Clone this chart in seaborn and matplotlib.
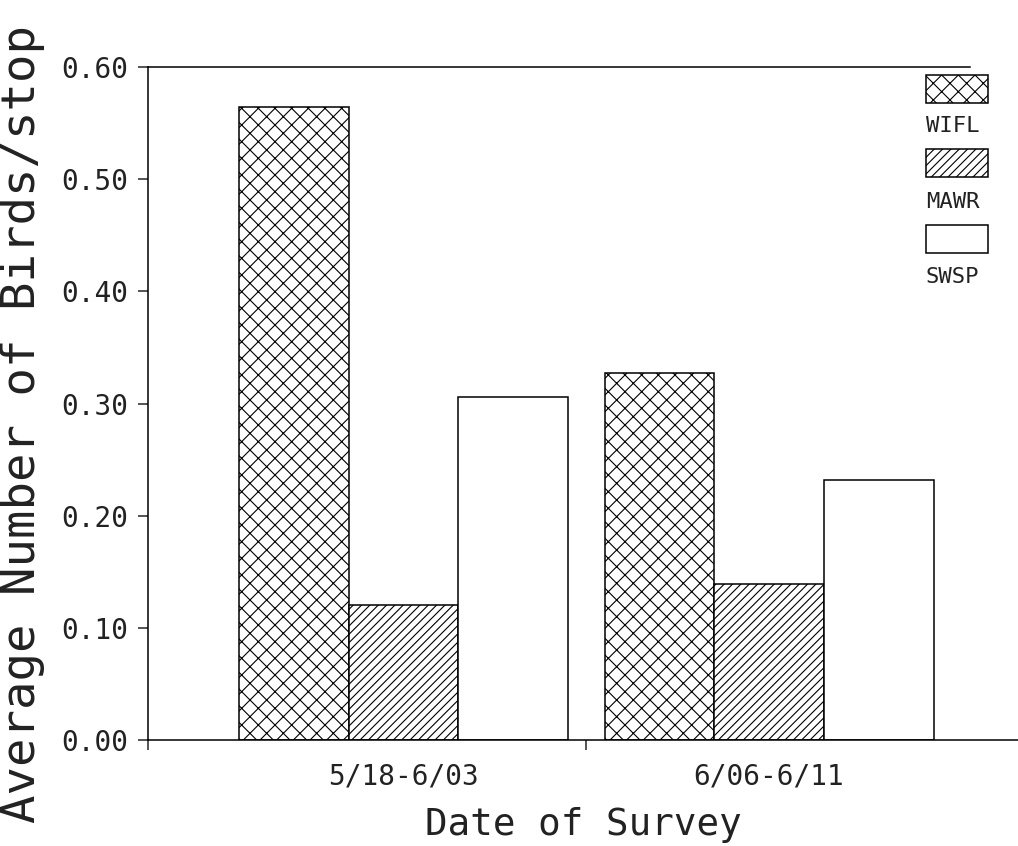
import numpy as np
import pandas as pd
import matplotlib
matplotlib.use('Agg')
import matplotlib.pyplot as plt
import seaborn as sns
from matplotlib.patches import Rectangle

# data
dates = ['5/18-6/03', '6/06-6/11']
species = ['WIFL', 'MAWR', 'SWSP']
wifl = [0.564, 0.327]
mawr = [0.120, 0.139]
swsp = [0.306, 0.232]
hatches = ['xx', '////', '']

df = pd.DataFrame({
    'date': dates * 3,
    'species': [s for s in species for _ in dates],
    'value': wifl + mawr + swsp,
})

sns.set_theme(style='white')
plt.rcParams['font.family'] = ['DejaVu Sans Mono', 'DejaVu Sans']
plt.rcParams['hatch.linewidth'] = 0.8

fig = plt.figure(figsize=(10.18, 8.46), dpi=100)
ax = fig.add_axes([148 / 1018, 1 - 740 / 846, 1 - 148 / 1018, (740 - 67) / 846])

sns.barplot(data=df, x='date', y='value', hue='species', hue_order=species,
            order=dates, width=0.9, palette=['white'] * 3, edgecolor='black',
            linewidth=1.1, saturation=1, legend=False, ax=ax)

for cont, h in zip(ax.containers, hatches):
    for bar in cont:
        bar.set_hatch(h)
        bar.set_edgecolor('black')

ax.set_xlim(-0.699, 1.681)
ax.set_ylim(0, 0.6)
ax.set_yticks(np.arange(0, 0.61, 0.1))
ax.set_yticklabels([f'{v:.2f}' for v in np.arange(0, 0.61, 0.1)], fontsize=20)
ax.set_xticks([0, 1])
ax.set_xticklabels(dates, fontsize=20)
ax.set_xticks([-0.699, 0.5], minor=True)
ax.tick_params(axis='x', which='major', length=0, pad=16)
ax.tick_params(axis='x', which='minor', length=7, width=1.1, direction='out', bottom=True)
ax.tick_params(axis='y', length=7, width=1.1, direction='out', left=True, pad=7)
ax.tick_params(labelcolor='#222222')

ax.set_xlabel('Date of Survey', fontsize=27, labelpad=12, color='#222222')
ax.set_ylabel('Average Number of Birds/stop', fontsize=34, color='#222222')
ax.yaxis.set_label_coords(-0.118, 0.47)

for side in ['left', 'bottom', 'top']:
    ax.spines[side].set_visible(True)
    ax.spines[side].set_color('black')
    ax.spines[side].set_linewidth(1.1)
ax.spines['right'].set_visible(False)
ax.spines['top'].set_bounds(-0.699, 1.55)

# legend: box with the name below it
box_y = [0.9465, 0.8366, 0.7236]
text_y = [0.9116, 0.7994, 0.688]
for name, h, by, ty in zip(species, hatches, box_y, text_y):
    ax.add_patch(Rectangle((0.894, by), 0.0713, 0.0416, transform=ax.transAxes,
                           facecolor='white', edgecolor='black', hatch=h,
                           linewidth=1.1, clip_on=False))
    ax.text(0.894, ty, name, transform=ax.transAxes, fontsize=16,
            ha='left', va='center', color='#222222')

fig.savefig('out.png', dpi=100)
